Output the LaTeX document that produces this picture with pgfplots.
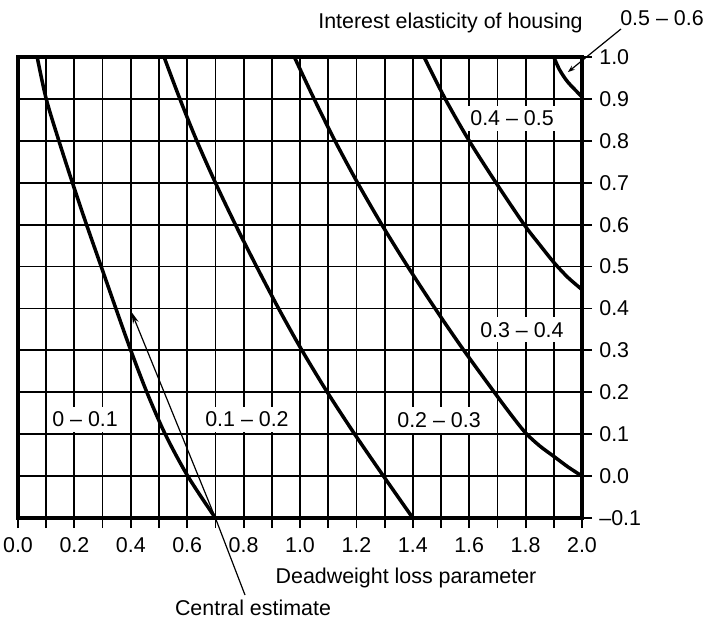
\documentclass[border=0pt]{standalone}
\usepackage{fontspec}
\setmainfont{Liberation Sans}
\usepackage{pgfplots}
\pgfplotsset{compat=1.18}
\usetikzlibrary{arrows.meta}

\begin{document}
\fontsize{21.5}{25}\selectfont
\begin{tikzpicture}
\begin{axis}[
  scale only axis,
  width=564bp, height=461bp,
  xmin=0, xmax=2, ymin=-0.1, ymax=1.0,
  xtick={0,0.2,0.4,0.6,0.8,1.0,1.2,1.4,1.6,1.8,2.0},
  xticklabels={0.0,0.2,0.4,0.6,0.8,1.0,1.2,1.4,1.6,1.8,2.0},
  minor xtick={0.1,0.3,0.5,0.7,0.9,1.1,1.3,1.5,1.7,1.9},
  ytick={-0.1,0,0.1,0.2,0.3,0.4,0.5,0.6,0.7,0.8,0.9,1.0},
  yticklabels={–0.1,0.0,0.1,0.2,0.3,0.4,0.5,0.6,0.7,0.8,0.9,1.0},
  xtick pos=left, ytick pos=right, yticklabel pos=right,
  tick align=outside,
  major tick length=10bp, minor tick length=10bp,
  tick style={black, line width=1.8bp},
  grid=both,
  major grid style={black, line width=1.8bp},
  minor grid style={black, line width=1.8bp},
  axis line style={line width=4bp},
  xticklabel style={yshift=-2bp},
  xlabel={Deadweight loss parameter},
  xlabel style={at={(axis description cs:0.688,0)}, anchor=center, yshift=-60bp},
]
% labels of the regions
\node[fill=white, inner xsep=4bp, inner ysep=5bp] at (axis cs:0.238,0.135) {0 – 0.1};
\node[fill=white, inner xsep=4bp, inner ysep=5bp] at (axis cs:0.812,0.135) {0.1 – 0.2};
\node[fill=white, inner xsep=4bp, inner ysep=5bp] at (axis cs:1.493,0.134) {0.2 – 0.3};
\node[fill=white, inner xsep=4bp, inner ysep=5bp] at (axis cs:1.787,0.349) {0.3 – 0.4};
\node[fill=white, inner xsep=4bp, inner ysep=5bp] at (axis cs:1.752,0.854) {0.4 – 0.5};

% boundaries between the regions
\addplot[black, line width=3.5bp, smooth, tension=0.5] coordinates {
  (0.068,1.0) (0.1,0.9) (0.145,0.8) (0.193,0.7) (0.243,0.6) (0.295,0.5)
  (0.347,0.4) (0.4,0.3) (0.457,0.2) (0.522,0.1) (0.602,0.0) (0.7,-0.1)
};
\addplot[black, line width=3.5bp, smooth, tension=0.5] coordinates {
  (0.518,1.0) (0.574,0.9) (0.634,0.8) (0.7,0.7) (0.771,0.6) (0.846,0.5)
  (0.924,0.4) (1.007,0.3) (1.097,0.2) (1.194,0.1) (1.296,0.0) (1.4,-0.1)
};
\addplot[black, line width=3.5bp, smooth, tension=0.5] coordinates {
  (0.98,1.0) (1.05,0.9) (1.124,0.8) (1.204,0.7) (1.29,0.6) (1.382,0.5)
  (1.479,0.4) (1.581,0.3) (1.7,0.19) (1.75,0.145) (1.8,0.103) (1.85,0.072)
  (1.9,0.047) (1.95,0.022) (2.0,0.0)
};
\addplot[black, line width=3.5bp, smooth, tension=0.5] coordinates {
  (1.44,1.0) (1.515,0.9) (1.6,0.8) (1.695,0.7) (1.795,0.6) (1.85,0.552)
  (1.9,0.51) (1.95,0.474) (2.0,0.445)
};
\addplot[black, line width=3.5bp, smooth, tension=0.5] coordinates {
  (1.9,1.0) (1.92,0.97) (1.95,0.94) (2.0,0.905)
};

\coordinate (SW) at (rel axis cs:0,0);
\coordinate (NE) at (rel axis cs:1,1);
\coordinate (tipA) at (axis cs:0.402,0.392);
\coordinate (kneeA) at (axis cs:0.7,-0.1);
\coordinate (tipB) at (axis cs:1.95,0.964);
\end{axis}

\node[anchor=east] at ([xshift=8bp,yshift=34bp]NE) {Interest elasticity of housing};
\node at ([xshift=80bp,yshift=39bp]NE) {0.5 – 0.6};
\draw[line width=1.2bp, -{Stealth[length=7bp,width=5bp]}] ([xshift=39bp,yshift=28bp]NE) -- (tipB);
\node at ([xshift=235bp,yshift=-90bp]SW) {Central estimate};
\draw[line width=1.2bp, -{Stealth[length=12bp,width=6bp]}] ([xshift=227bp,yshift=-77bp]SW) -- (kneeA) -- (tipA);

\pgfresetboundingbox
\path ([xshift=-18bp,yshift=-103bp]SW) rectangle ++(708bp,621bp);
\end{tikzpicture}
\end{document}
